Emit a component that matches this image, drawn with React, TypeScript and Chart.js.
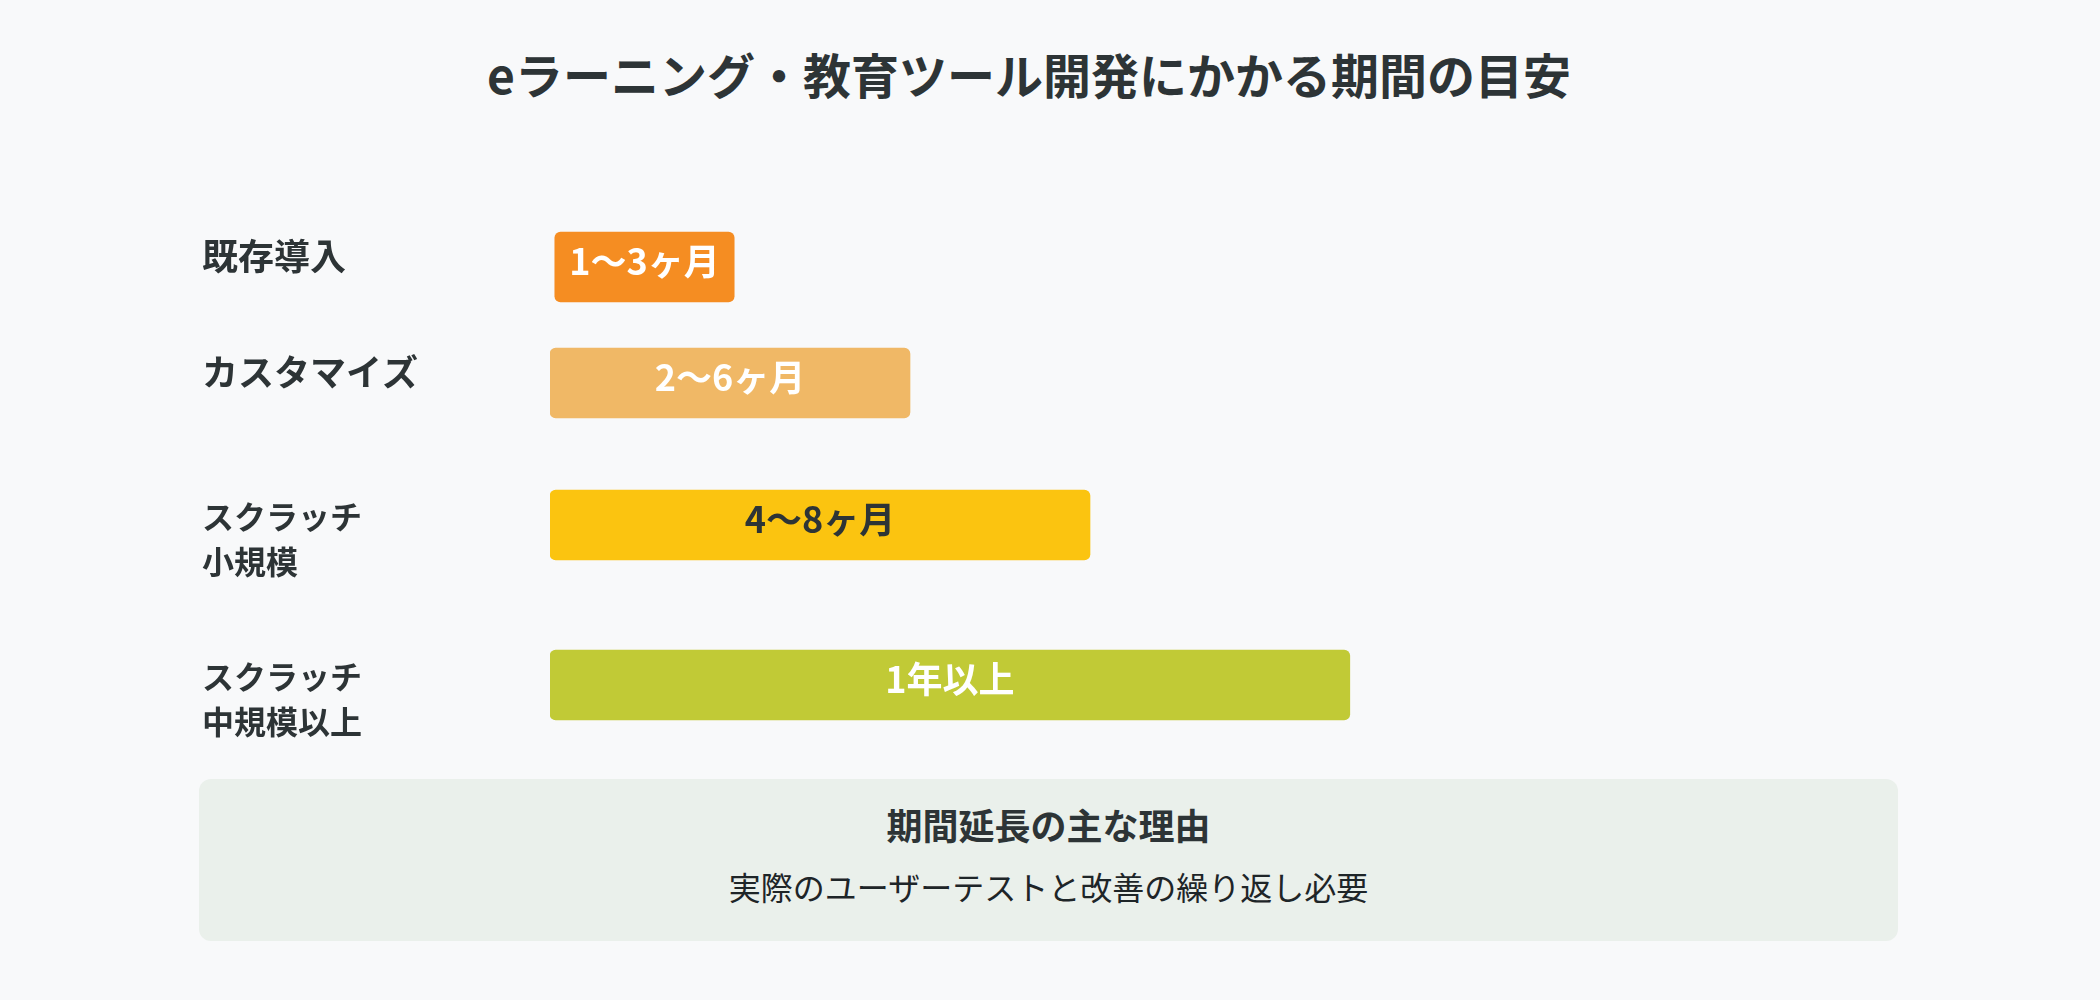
import React, { useEffect, useRef } from "react";
import { Chart, registerables } from "chart.js";

Chart.register(...registerables);

// ---------- data ----------
const chartTitle = "eラーニング・教育ツール開発にかかる期間の目安";
const categories: string[][] = [
  ["既存導入"],
  ["カスタマイズ"],
  ["スクラッチ", "小規模"],
  ["スクラッチ", "中規模以上"],
];
const durationLabels = ["1〜3ヶ月", "2〜6ヶ月", "4〜8ヶ月", "1年以上"];
// relative bar lengths (floating bars: start / end)
const barStart = [0.08, 0, 0, 0];
const barEnd = [3.07, 6, 9, 13.33];
const axisMin = 0;
const axisMax = 20;
const noteTitle = "期間延長の主な理由";
const noteText = "実際のユーザーテストと改善の繰り返し必要";

// ---------- styles ----------
const FONT = "'Noto Sans CJK JP', 'Noto Sans', sans-serif";
const TEXT_DARK = "#2D3436";
const barColors = ["#F58D22", "#F0B866", "#FBC410", "#C1CA36"];
const valueTextColors = ["#FFFFFF", "#FFFFFF", "#2D3436", "#FFFFFF"];
const rowHeights = [110, 122, 162, 158];
const labelFontSizes = [36, 36, 32, 32];
const labelOffsets = [-11, -11, 14, 14];
const CANVAS_W = 1548;
const AXIS_W = 348;

const valueLabelPlugin = {
  id: "valueLabel",
  afterDatasetsDraw(chart: any, _args: any, opts: any) {
    const { ctx } = chart;
    const meta = chart.getDatasetMeta(0);
    meta.data.forEach((bar: any) => {
      const { x, y, base } = bar.getProps(["x", "y", "base"], true);
      ctx.save();
      ctx.font = `bold 36px ${FONT}`;
      ctx.fillStyle = opts.color;
      ctx.textAlign = "center";
      ctx.textBaseline = "middle";
      ctx.fillText(opts.text, (x + base) / 2, y + opts.dy);
      ctx.restore();
    });
  },
};

function RowChart({ index }: { index: number }) {
  const ref = useRef<HTMLCanvasElement>(null);
  useEffect(() => {
    const chart = new Chart(ref.current as HTMLCanvasElement, {
      type: "bar",
      data: {
        labels: [categories[index]],
        datasets: [
          {
            data: [[barStart[index], barEnd[index]]] as any,
            backgroundColor: barColors[index],
            borderRadius: 6,
            borderSkipped: false,
            barThickness: 70,
          },
        ],
      },
      options: {
        indexAxis: "y",
        animation: false,
        responsive: false,
        maintainAspectRatio: false,
        layout: { padding: 0, autoPadding: false },
        plugins: {
          legend: { display: false },
          tooltip: { enabled: false },
          title: { display: false },
          valueLabel: {
            text: durationLabels[index],
            color: valueTextColors[index],
            dy: -6,
          },
        } as any,
        scales: {
          x: { display: false, min: axisMin, max: axisMax },
          y: {
            grid: { display: false },
            border: { display: false },
            ticks: {
              crossAlign: "far",
              padding: 0,
              labelOffset: labelOffsets[index],
              color: TEXT_DARK,
              font: {
                family: FONT,
                size: labelFontSizes[index],
                weight: "bold",
                lineHeight: 1.4,
              },
            },
            afterFit: (scale: any) => {
              scale.width = AXIS_W;
              scale.paddingTop = 0;
              scale.paddingBottom = 0;
            },
          },
        },
      },
      plugins: [valueLabelPlugin],
    });
    return () => chart.destroy();
  }, [index]);
  return (
    <canvas
      ref={ref}
      width={CANVAS_W}
      height={rowHeights[index]}
      style={{ display: "block", width: CANVAS_W, height: rowHeights[index] }}
    />
  );
}

export default function App() {
  return (
    <div
      style={{
        position: "absolute",
        left: 0,
        top: 0,
        width: 2100,
        height: 1000,
        background: "#F8F9FA",
        fontFamily: FONT,
        color: TEXT_DARK,
        overflow: "hidden",
      }}
    >
      <div
        style={{
          position: "absolute",
          left: 0,
          top: 49,
          width: 2058,
          textAlign: "center",
          fontSize: 48,
          lineHeight: "48px",
          fontWeight: 700,
          whiteSpace: "nowrap",
        }}
      >
        {chartTitle}
      </div>
      <div style={{ position: "absolute", left: 202, top: 212 }}>
        {categories.map((_, i) => (
          <RowChart key={i} index={i} />
        ))}
      </div>
      <div
        style={{
          position: "absolute",
          left: 199,
          top: 779,
          width: 1699,
          height: 162,
          background: "#EAF0EB",
          borderRadius: 12,
          textAlign: "center",
        }}
      >
        <div
          style={{
            position: "absolute",
            left: 0,
            right: 0,
            top: 27,
            fontSize: 36,
            lineHeight: "36px",
            fontWeight: 700,
          }}
        >
          {noteTitle}
        </div>
        <div
          style={{
            position: "absolute",
            left: 0,
            right: 0,
            top: 91,
            fontSize: 32,
            lineHeight: "32px",
            fontWeight: 400,
            color: "#1E2528",
          }}
        >
          {noteText}
        </div>
      </div>
    </div>
  );
}
